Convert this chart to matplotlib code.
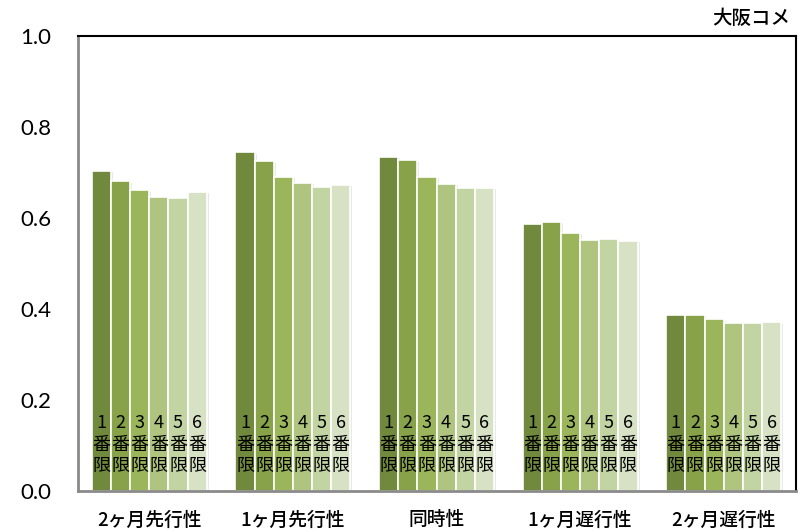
import matplotlib
matplotlib.use('Agg')
import matplotlib.pyplot as plt
import matplotlib.patheffects as pe
import numpy as np

plt.rcParams['font.family'] = ['Noto Sans CJK JP', 'DejaVu Sans']

categories = ['2ヶ月先行性', '1ヶ月先行性', '同時性', '1ヶ月遅行性', '2ヶ月遅行性']
series_names = ['1番限', '2番限', '3番限', '4番限', '5番限', '6番限']
values = [
    [0.704, 0.681, 0.661, 0.647, 0.643, 0.658],
    [0.744, 0.725, 0.690, 0.677, 0.668, 0.673],
    [0.734, 0.727, 0.690, 0.675, 0.667, 0.667],
    [0.586, 0.591, 0.568, 0.552, 0.554, 0.550],
    [0.386, 0.386, 0.377, 0.369, 0.369, 0.371],
]
colors = ['#71893c', '#88a24a', '#9bb55a', '#afc57f', '#c3d4a3', '#d7e2c5']
title = '大阪コメ'

fig = plt.figure(figsize=(8.07, 5.31), dpi=100)
ax = fig.add_axes([77.5 / 807, 1 - 491 / 531, 718 / 807, 455 / 531])

n = len(series_names)
group_w = 0.8
bar_w = group_w / n
x = np.arange(len(categories))
data = np.array(values)

shadow = [pe.SimplePatchShadow(offset=(1.5, -1), shadow_rgbFace='#aaaaaa', alpha=0.25), pe.Normal()]
for i in range(n):
    pos = x - group_w / 2 + bar_w * (i + 0.5)
    bars = ax.bar(pos, data[:, i], width=bar_w, color=colors[i], edgecolor='white',
                  linewidth=1.2, zorder=2)
    for b in bars:
        b.set_path_effects(shadow)
    label = series_names[i]
    for p in pos:
        ax.text(p, 0.150, label[0], ha='center', va='center', fontsize=13, zorder=3)
        ax.text(p, 0.101, label[1], ha='center', va='center', fontsize=13, zorder=3)
        ax.text(p, 0.054, label[2], ha='center', va='center', fontsize=13, zorder=3)

ax.set_xlim(-0.5, len(categories) - 0.5)
ax.set_ylim(0, 1.0)
ax.set_yticks(np.arange(0, 1.01, 0.2))
ax.set_yticklabels([f'{v:.1f}' for v in np.arange(0, 1.01, 0.2)], fontsize=16,
                   family=['Lato', 'DejaVu Sans'])
ax.set_xticks(x)
ax.set_xticklabels(categories, fontsize=13.5, fontweight='medium')
ax.tick_params(axis='both', length=0)
ax.tick_params(axis='y', pad=19)
ax.tick_params(axis='x', pad=14)

ax.spines['left'].set_color('#8a8a8a')
ax.spines['bottom'].set_color('#8a8a8a')
ax.spines['left'].set_linewidth(2)
ax.spines['bottom'].set_linewidth(2)
ax.spines['top'].set_color('black')
ax.spines['right'].set_color('black')
ax.spines['top'].set_linewidth(1.5)
ax.spines['right'].set_linewidth(1.5)

fig.text(790 / 807, 1 - 18 / 531, title, ha='right', va='center', fontsize=14,
         fontweight='medium')

fig.savefig('out.png', dpi=100)
